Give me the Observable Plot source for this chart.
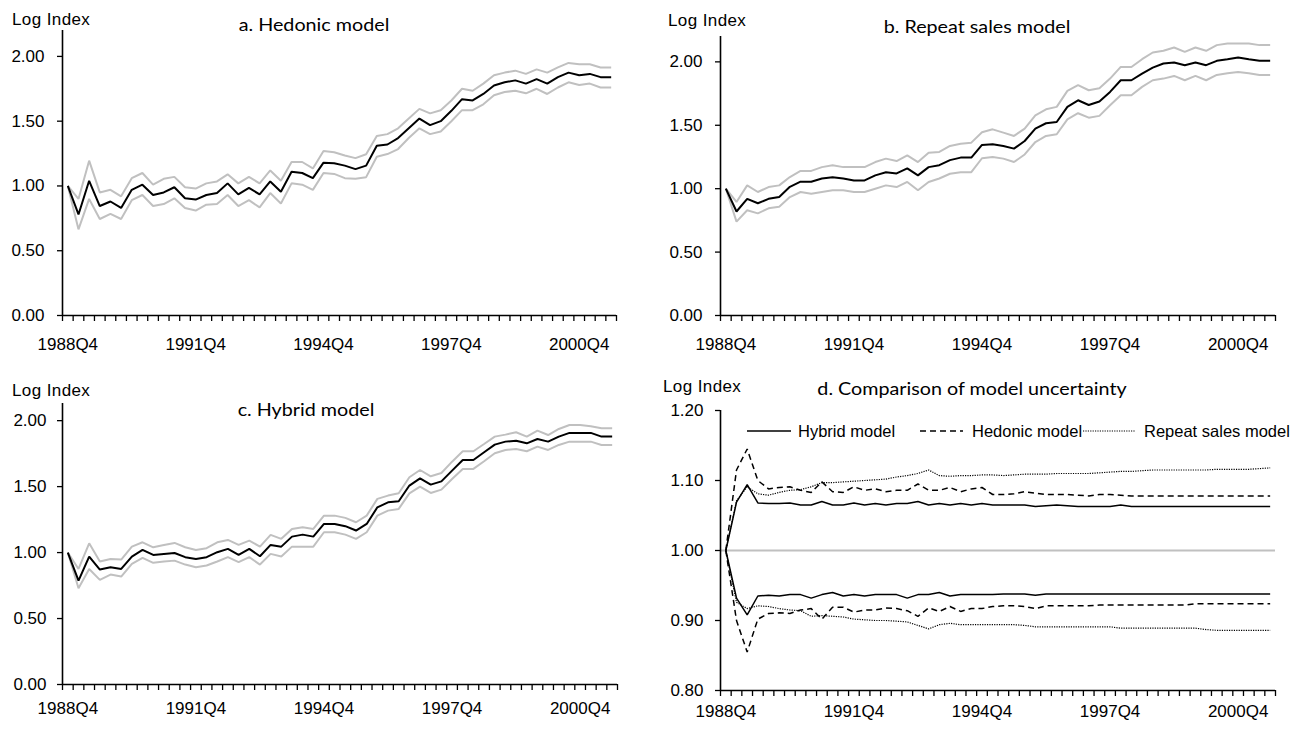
<!DOCTYPE html>
<html><head><meta charset="utf-8">
<script src="https://cdn.jsdelivr.net/npm/d3@7"></script>
<script src="https://cdn.jsdelivr.net/npm/@observablehq/plot@0.6"></script>
<style>
body{margin:0;background:#fff;}
#wrap{position:relative;width:1305px;height:731px;overflow:hidden;font-family:"Liberation Sans",Arial,sans-serif;color:#000;}
.panel{position:absolute;font-family:"Liberation Sans",Arial,sans-serif;}
.ttl{position:absolute;font-family:Lato,"Open Sans",sans-serif;font-size:16.5px;white-space:nowrap;transform:translate(-50%,-50%) scaleX(1.195);}
.ylab{position:absolute;font-size:17px;letter-spacing:0.4px;white-space:nowrap;transform:translateY(-50%);}
</style></head><body><div id="wrap"></div>
<script>
const quarters = ["1988Q4","1989Q1","1989Q2","1989Q3","1989Q4","1990Q1","1990Q2","1990Q3","1990Q4","1991Q1","1991Q2","1991Q3","1991Q4",
"1992Q1","1992Q2","1992Q3","1992Q4","1993Q1","1993Q2","1993Q3","1993Q4","1994Q1","1994Q2","1994Q3","1994Q4",
"1995Q1","1995Q2","1995Q3","1995Q4","1996Q1","1996Q2","1996Q3","1996Q4","1997Q1","1997Q2","1997Q3","1997Q4",
"1998Q1","1998Q2","1998Q3","1998Q4","1999Q1","1999Q2","1999Q3","1999Q4","2000Q1","2000Q2","2000Q3","2000Q4",
"2001Q1","2001Q2","2001Q3"];
const xTickLabels = ["1988Q4","1991Q4","1994Q4","1997Q4","2000Q4"];

const hedonicIndex = [1.00,0.78,1.04,0.845,0.88,0.83,0.97,1.01,0.93,0.95,0.99,0.905,0.895,0.93,0.945,1.02,0.935,0.985,0.935,1.035,0.955,1.11,1.10,1.06,1.18,
1.175,1.157,1.13,1.157,1.31,1.32,1.37,1.445,1.52,1.47,1.50,1.58,1.67,1.66,1.71,1.775,1.80,1.815,1.79,1.825,1.79,1.84,1.875,1.855,1.865,1.84,1.84];
const hedonicUpper = [1.00,0.90,1.195,0.95,0.97,0.92,1.06,1.10,1.01,1.055,1.07,0.99,0.98,1.02,1.035,1.09,1.02,1.07,1.02,1.12,1.04,1.185,1.185,1.135,1.27,
1.26,1.235,1.215,1.245,1.385,1.40,1.445,1.52,1.595,1.56,1.585,1.66,1.75,1.735,1.79,1.855,1.875,1.89,1.865,1.90,1.875,1.915,1.95,1.94,1.94,1.915,1.915];
const hedonicLower = [1.00,0.665,0.90,0.745,0.785,0.745,0.89,0.93,0.845,0.86,0.905,0.83,0.81,0.855,0.86,0.93,0.845,0.89,0.835,0.945,0.865,1.02,1.01,0.97,1.10,
1.093,1.06,1.055,1.068,1.226,1.246,1.285,1.37,1.445,1.40,1.42,1.50,1.585,1.585,1.63,1.70,1.725,1.735,1.715,1.75,1.71,1.76,1.80,1.78,1.79,1.76,1.76];

const repeatIndex = [1.00,0.82,0.92,0.885,0.92,0.935,1.015,1.055,1.055,1.08,1.09,1.08,1.065,1.065,1.105,1.13,1.12,1.16,1.105,1.17,1.185,1.225,1.245,1.245,1.345,
1.35,1.337,1.316,1.376,1.474,1.516,1.526,1.645,1.697,1.66,1.687,1.763,1.855,1.855,1.908,1.955,1.987,1.995,1.974,1.995,1.974,2.008,2.02,2.034,2.02,2.008,2.008];
const repeatUpper = [1.00,0.895,1.026,0.974,1.013,1.026,1.092,1.14,1.14,1.17,1.184,1.17,1.17,1.17,1.21,1.237,1.218,1.263,1.21,1.284,1.29,1.337,1.355,1.363,1.445,
1.468,1.442,1.416,1.474,1.579,1.626,1.645,1.771,1.816,1.776,1.792,1.868,1.96,1.96,2.021,2.074,2.087,2.113,2.079,2.113,2.087,2.132,2.145,2.145,2.145,2.132,2.132];
const repeatLower = [1.00,0.74,0.83,0.805,0.845,0.858,0.934,0.974,0.96,0.974,0.987,0.987,0.974,0.974,1.00,1.026,1.013,1.053,0.987,1.053,1.08,1.118,1.13,1.13,1.24,
1.25,1.237,1.21,1.27,1.368,1.416,1.429,1.547,1.595,1.56,1.574,1.658,1.737,1.737,1.803,1.855,1.868,1.889,1.855,1.889,1.855,1.897,1.91,1.92,1.91,1.897,1.897];

const hybridIndex = [1.00,0.788,0.97,0.871,0.889,0.876,0.97,1.02,0.982,0.99,0.997,0.965,0.952,0.965,1.003,1.028,0.982,1.028,0.972,1.058,1.045,1.121,1.136,1.121,1.217,
1.217,1.2,1.167,1.217,1.343,1.381,1.389,1.508,1.563,1.515,1.54,1.621,1.702,1.702,1.76,1.818,1.841,1.848,1.828,1.861,1.841,1.879,1.907,1.907,1.907,1.879,1.879];
const hybridUpper = [1.00,0.876,1.07,0.932,0.952,0.947,1.045,1.078,1.04,1.058,1.073,1.04,1.02,1.033,1.078,1.096,1.058,1.091,1.045,1.134,1.104,1.179,1.192,1.179,1.28,
1.28,1.263,1.23,1.28,1.407,1.432,1.45,1.571,1.626,1.578,1.603,1.689,1.768,1.768,1.823,1.879,1.894,1.912,1.879,1.924,1.891,1.937,1.967,1.967,1.957,1.942,1.942];
const hybridLower = [1.00,0.73,0.876,0.793,0.833,0.818,0.914,0.96,0.922,0.932,0.939,0.909,0.889,0.902,0.932,0.965,0.927,0.965,0.909,0.99,0.97,1.045,1.045,1.045,1.154,
1.154,1.136,1.104,1.154,1.28,1.318,1.331,1.449,1.5,1.452,1.477,1.558,1.634,1.634,1.692,1.753,1.778,1.785,1.768,1.803,1.778,1.816,1.841,1.841,1.841,1.816,1.816];

// panel d: upper / lower bounds relative to the index
const hybridUpperRatio = [1.00,1.069,1.094,1.068,1.067,1.067,1.068,1.065,1.065,1.07,1.065,1.065,1.068,1.065,1.067,1.065,1.067,1.067,1.07,1.065,1.067,1.065,1.067,1.065,1.067,
1.065,1.065,1.065,1.065,1.063,1.064,1.065,1.064,1.063,1.063,1.063,1.063,1.065,1.063,1.063,1.063,1.063,1.063,1.063,1.063,1.063,1.063,1.063,1.063,1.063,1.063,1.063];
const hybridLowerRatio = [1.00,0.932,0.908,0.935,0.936,0.935,0.937,0.937,0.932,0.937,0.94,0.935,0.937,0.935,0.937,0.937,0.937,0.932,0.937,0.937,0.94,0.935,0.937,0.937,0.937,
0.937,0.938,0.938,0.938,0.936,0.938,0.938,0.938,0.938,0.938,0.938,0.938,0.938,0.938,0.938,0.938,0.938,0.938,0.938,0.938,0.938,0.938,0.938,0.938,0.938,0.938,0.938];
const hedonicUpperRatio = [1.00,1.115,1.145,1.10,1.088,1.09,1.091,1.086,1.083,1.098,1.084,1.083,1.091,1.086,1.088,1.084,1.086,1.086,1.095,1.086,1.086,1.09,1.084,1.088,1.09,
1.08,1.08,1.081,1.084,1.082,1.08,1.08,1.08,1.079,1.078,1.08,1.08,1.079,1.078,1.078,1.078,1.078,1.078,1.078,1.078,1.078,1.078,1.078,1.078,1.078,1.078,1.078];
const hedonicLowerRatio = [1.00,0.90,0.855,0.902,0.91,0.911,0.91,0.915,0.917,0.902,0.919,0.919,0.912,0.915,0.915,0.918,0.917,0.914,0.906,0.918,0.913,0.92,0.913,0.917,0.917,
0.92,0.921,0.921,0.92,0.917,0.921,0.921,0.921,0.921,0.921,0.922,0.922,0.922,0.922,0.922,0.922,0.922,0.922,0.922,0.924,0.924,0.924,0.924,0.924,0.924,0.924,0.924];
const repeatUpperRatio = [1.00,1.071,1.091,1.081,1.079,1.083,1.086,1.087,1.091,1.097,1.097,1.098,1.099,1.1,1.101,1.102,1.105,1.107,1.11,1.115,1.107,1.106,1.107,1.107,1.108,
1.108,1.107,1.108,1.109,1.109,1.109,1.11,1.11,1.11,1.11,1.111,1.112,1.113,1.113,1.114,1.115,1.115,1.115,1.115,1.115,1.115,1.116,1.116,1.116,1.116,1.117,1.118];
const repeatLowerRatio = [1.00,0.926,0.917,0.921,0.92,0.917,0.915,0.914,0.906,0.907,0.906,0.905,0.902,0.901,0.9,0.9,0.899,0.898,0.893,0.888,0.894,0.896,0.894,0.894,0.894,
0.894,0.894,0.894,0.893,0.891,0.891,0.891,0.891,0.891,0.891,0.891,0.891,0.889,0.889,0.889,0.889,0.889,0.889,0.889,0.889,0.887,0.886,0.886,0.886,0.886,0.886,0.886];

const logTicks = [0, 0.5, 1, 1.5, 2];
const ratioTicks = [0.8, 0.9, 1.0, 1.1, 1.2];

const GRAY = "#c0c0c0";
const FONT = "'Liberation Sans', Arial, sans-serif";
const idx = d3.range(quarters.length);
const labelPos = xTickLabels.map(l => quarters.indexOf(l) + 0.5);

function panel(cfg) {
  const marks = [];
  if (cfg.refLine != null) marks.push(Plot.ruleY([cfg.refLine], {stroke: GRAY, strokeWidth: 2}));
  for (const s of cfg.series) {
    marks.push(Plot.line(idx, {x: i => i + 0.5, y: i => s.values[i], stroke: s.stroke, strokeWidth: s.width,
      strokeDasharray: s.dash, strokeLinejoin: "miter", strokeLinecap: "butt"}));
  }
  marks.push(
    Plot.axisY(cfg.yTicks, {tickSize: 5, tickPadding: cfg.yPad, tickFormat: d3.format(".2f"), fontSize: 17, fontFamily: FONT, strokeWidth: 1.3}),
    Plot.axisX(d3.range(quarters.length + 1), {tickSize: 6, tickFormat: () => "", strokeWidth: 1.3}),
    Plot.axisX(labelPos, {tickSize: 0, tickPadding: cfg.xPad, fontSize: 17, fontFamily: FONT, tickFormat: v => quarters[Math.floor(v)]}),
    Plot.ruleX([0], {strokeWidth: 1.6}),
    Plot.ruleY([cfg.yDomain[0]], {strokeWidth: 1.6})
  );
  const svg = Plot.plot({
    width: cfg.width, height: cfg.height,
    marginLeft: cfg.ml, marginRight: cfg.mr, marginTop: cfg.mt, marginBottom: cfg.mb,
    style: `font-family: ${FONT}; color: #000; background: transparent; overflow: visible;`,
    x: {domain: [0, quarters.length]},
    y: {domain: cfg.yDomain},
    marks
  });
  svg.classList.add("panel");
  svg.style.left = cfg.left + "px";
  svg.style.top = cfg.top + "px";
  return svg;
}

const wrap = document.getElementById("wrap");
const band = (idxv, up, lo) => [
  {values: up, stroke: GRAY, width: 2},
  {values: lo, stroke: GRAY, width: 2},
  {values: idxv, stroke: "#000", width: 2}
];

wrap.appendChild(panel({left: 0, top: 0, width: 650, height: 360, ml: 62, mr: 34, mt: 30, mb: 45,
  yDomain: [0, 2.2], yTicks: logTicks, yPad: 13, xPad: 22, series: band(hedonicIndex, hedonicUpper, hedonicLower)}));
wrap.appendChild(panel({left: 650, top: 0, width: 655, height: 360, ml: 70, mr: 30, mt: 36, mb: 45,
  yDomain: [0, 2.2], yTicks: logTicks, yPad: 13, xPad: 22, series: band(repeatIndex, repeatUpper, repeatLower)}));
wrap.appendChild(panel({left: 0, top: 360, width: 650, height: 371, ml: 62, mr: 33, mt: 43, mb: 47,
  yDomain: [0, 2.13], yTicks: logTicks, yPad: 11, xPad: 17, series: band(hybridIndex, hybridUpper, hybridLower)}));
wrap.appendChild(panel({left: 650, top: 360, width: 655, height: 371, ml: 70, mr: 30, mt: 50, mb: 41,
  yDomain: [0.8, 1.2], yTicks: ratioTicks, yPad: 12, xPad: 14, refLine: 1,
  series: [
    {values: hybridUpperRatio, stroke: "#000", width: 1.5},
    {values: hybridLowerRatio, stroke: "#000", width: 1.5},
    {values: hedonicUpperRatio, stroke: "#000", width: 1.5, dash: "6,4"},
    {values: hedonicLowerRatio, stroke: "#000", width: 1.5, dash: "6,4"},
    {values: repeatUpperRatio, stroke: "#000", width: 1.2, dash: "1.2,1.2"},
    {values: repeatLowerRatio, stroke: "#000", width: 1.2, dash: "1.2,1.2"}
  ]}));

function addText(cls, text, x, y) {
  const d = document.createElement("div");
  d.className = cls; d.textContent = text;
  d.style.left = x + "px"; d.style.top = y + "px";
  wrap.appendChild(d);
}
addText("ttl", "a. Hedonic model", 314, 25);
addText("ttl", "b. Repeat sales model", 977, 27);
addText("ttl", "c. Hybrid model", 306, 410);
addText("ttl", "d. Comparison of model uncertainty", 972, 389);
addText("ylab", "Log Index", 12, 20);
addText("ylab", "Log Index", 668, 21);
addText("ylab", "Log Index", 12, 391);
addText("ylab", "Log Index", 663, 387);

// legend for panel d
const legendItems = [
  {label: "Hybrid model", x1: 747, x2: 791, tx: 798, dash: null, w: 1.5},
  {label: "Hedonic model", x1: 920, x2: 963, tx: 972, dash: "6,4", w: 1.5},
  {label: "Repeat sales model", x1: 1083, x2: 1135, tx: 1144, dash: "1.2,1.2", w: 1.2}
];
const ns = "http://www.w3.org/2000/svg";
const leg = document.createElementNS(ns, "svg");
leg.setAttribute("width", 1305); leg.setAttribute("height", 40);
leg.style.position = "absolute"; leg.style.left = "0px"; leg.style.top = "414px";
for (const it of legendItems) {
  const ln = document.createElementNS(ns, "line");
  ln.setAttribute("x1", it.x1); ln.setAttribute("x2", it.x2);
  ln.setAttribute("y1", 17); ln.setAttribute("y2", 17);
  ln.setAttribute("stroke", "#000"); ln.setAttribute("stroke-width", it.w);
  if (it.dash) ln.setAttribute("stroke-dasharray", it.dash);
  leg.appendChild(ln);
  const t = document.createElementNS(ns, "text");
  t.setAttribute("x", it.tx); t.setAttribute("y", 23);
  t.setAttribute("font-size", 16.5);
  t.setAttribute("font-family", FONT);
  t.textContent = it.label;
  leg.appendChild(t);
}
wrap.appendChild(leg);
</script>
</body></html>
